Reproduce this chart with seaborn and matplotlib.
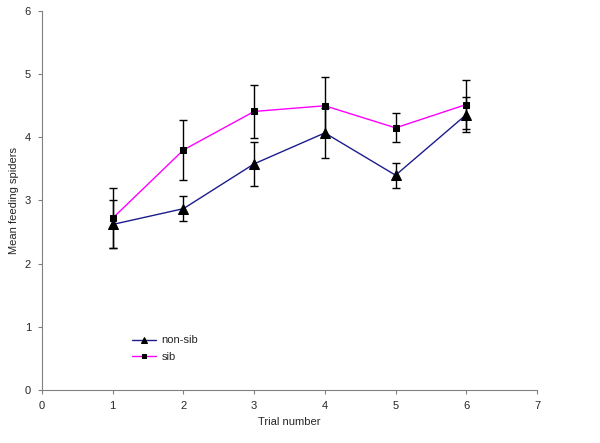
import pandas as pd
import matplotlib
matplotlib.use("Agg")
import matplotlib.pyplot as plt
import seaborn as sns

trials = [1, 2, 3, 4, 5, 6]
nonsib_mean = [2.62, 2.87, 3.58, 4.07, 3.40, 4.36]
nonsib_err = [0.38, 0.20, 0.35, 0.39, 0.20, 0.28]
sib_mean = [2.72, 3.80, 4.41, 4.50, 4.15, 4.52]
sib_err = [0.48, 0.48, 0.42, 0.46, 0.23, 0.39]

df = pd.DataFrame({
    "trial": trials * 2,
    "mean": nonsib_mean + sib_mean,
    "err": nonsib_err + sib_err,
    "group": ["non-sib"] * 6 + ["sib"] * 6,
})

sns.set_style("white")
plt.rcParams['font.family'] = ['Liberation Sans', 'DejaVu Sans']

fig = plt.figure(figsize=(6, 4.43), dpi=100)
ax = fig.add_axes([0.07, 0.12, 0.825, 0.855])

colors = {"non-sib": "#1c1c8c", "sib": "#ff00ff"}
markers = {"non-sib": "^", "sib": "s"}
sizes = {"non-sib": 7, "sib": 5}

for name, g in df.groupby("group"):
    ax.errorbar(g["trial"], g["mean"], yerr=g["err"], fmt="none",
                ecolor="black", elinewidth=1, capsize=3, capthick=1, zorder=2)
    sns.lineplot(data=g, x="trial", y="mean", ax=ax, color=colors[name],
                 marker=markers[name], markersize=sizes[name],
                 markerfacecolor="black", markeredgecolor="black",
                 linewidth=1, label=name, zorder=3)

ax.set_xlim(0, 7)
ax.set_ylim(0, 6)
ax.set_xticks(range(0, 8))
ax.set_yticks(range(0, 7))
ax.set_xlabel("Trial number", fontsize=8)
ax.set_ylabel("Mean feeding spiders", fontsize=8)
ax.tick_params(axis="both", labelsize=8, direction="out", length=3,
               color="#808080", left=True, bottom=True)
ax.tick_params(axis="y", pad=5)
ax.tick_params(axis="x", pad=5)
sns.despine(ax=ax)
for s in ["left", "bottom"]:
    ax.spines[s].set_color("#808080")
    ax.spines[s].set_linewidth(0.8)

ax.legend(loc="lower left", bbox_to_anchor=(0.17, 0.06), frameon=False,
          fontsize=8, handlelength=2.2, labelspacing=0.55, borderpad=0,
          markerscale=0.65, handletextpad=0.5)

fig.savefig("out.png", dpi=100)
